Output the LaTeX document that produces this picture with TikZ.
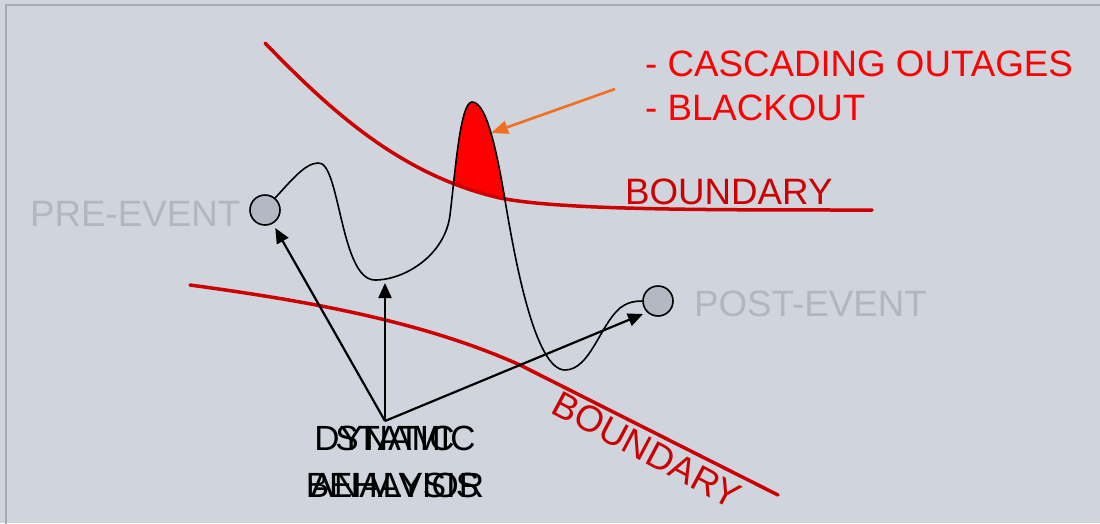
\documentclass[tikz,border=0pt]{standalone}
\usepackage{fontspec}
\setmainfont{Liberation Sans}
\usetikzlibrary{arrows.meta}
\definecolor{bg}{HTML}{D0D4DC}
\definecolor{framec}{HTML}{A4ABB6}
\definecolor{bred}{HTML}{CC0000}
\definecolor{gtext}{HTML}{B2B6BE}
\definecolor{cfill}{HTML}{B4B8C2}
\definecolor{orng}{HTML}{F07020}
\tikzset{
  bigtxt/.style={font=\fontsize{36.7}{40}\selectfont, inner sep=0pt},
  bound/.style={bred, line width=3.5pt, line cap=round},
  traj/.style={black, line width=1.6pt},
  state/.style={circle, draw=black, line width=1.6pt, fill=cfill, minimum size=30pt, inner sep=0pt},
  arr/.style={black, line width=2.2pt, -{Triangle[length=15pt,width=13pt]}},
  oarr/.style={orng, line width=2.6pt, -{Triangle[length=17pt,width=13pt]}}
}
\begin{document}
\begin{tikzpicture}[x=1pt,y=-1pt]
\useasboundingbox (0,0) rectangle (1100,523);
\fill[bg] (0,0) rectangle (1100,523);
\draw[framec, line width=2pt] (6,530) -- (6,5) -- (1110,5);

% red fill of the peak above the upper boundary
\begin{scope}
  \clip (265,43) .. controls (330,110) and (400,175) .. (500,198)
        .. controls (560,210) and (700,210) .. (872,210) -- (872,0) -- (265,0) -- cycle;
  \fill[red] (450,215) .. controls (455,175) and (460,102) .. (472,102)
        .. controls (485,102) and (495,140) .. (505,200) -- cycle;
\end{scope}

% boundaries
\draw[bound] (265,43) .. controls (330,110) and (400,175) .. (500,198)
        .. controls (560,210) and (700,210) .. (872,210);
\draw[bound] (190,285) .. controls (300,300) and (420,320) .. (520,365) -- (778,495);

% states
\node[state] (pre) at (265,210) {};
\node[state] (post) at (658,301) {};

% trajectory
\draw[traj] (pre.50) .. controls (290,182) and (305,163) .. (318,163)
  .. controls (340,160) and (340,280) .. (375,280)
  .. controls (405,280) and (445,255) .. (450,215)
  .. controls (455,175) and (460,102) .. (472,102)
  .. controls (485,102) and (495,140) .. (505,200)
  .. controls (515,260) and (535,370) .. (565,370)
  .. controls (590,370) and (600,325) .. (620,308)
  .. controls (628,302) and (635,301) .. (post.west);

% analysis arrows
\coordinate (o) at (385,421);
\coordinate (trough) at (385,283);
\coordinate (ptip) at (643,314);
\draw[arr, shorten >=5pt] (o) -- (pre);
\draw[arr] (o) -- (trough);
\draw[arr] (o) -- (ptip);

% orange arrow
\coordinate (os) at (615,89);
\coordinate (ot) at (491,133);
\draw[oarr] (os) -- (ot);

% labels
\node[bigtxt, red, anchor=base west] (l1) at (645,76) {- CASCADING OUTAGES};
\node[bigtxt, red, anchor=base west] (l2) at (645,120) {- BLACKOUT};
\node[bigtxt, bred, anchor=base west] (b1) at (625,204) {BOUNDARY};
\node[bigtxt, bred, rotate=-28] (b2) at (647,450) {BOUNDARY};
\node[bigtxt, gtext, anchor=base west] (pt) at (30,226) {PRE-EVENT};
\node[bigtxt, gtext, anchor=base west] (qt) at (694,316) {POST-EVENT};
\node[bigtxt, font=\fontsize{35}{40}\selectfont, anchor=base] (d1) at (395,450) {DYNAMIC};
\node[bigtxt, font=\fontsize{35}{40}\selectfont, anchor=base] (d2) at (395,497) {BEHAVIOR};
\node[bigtxt, font=\fontsize{35}{40}\selectfont, anchor=base] (s1) at (395,450) {STATIC};
\node[bigtxt, font=\fontsize{35}{40}\selectfont, anchor=base] (s2) at (395,497) {ANALYSIS};
\end{tikzpicture}
\end{document}
